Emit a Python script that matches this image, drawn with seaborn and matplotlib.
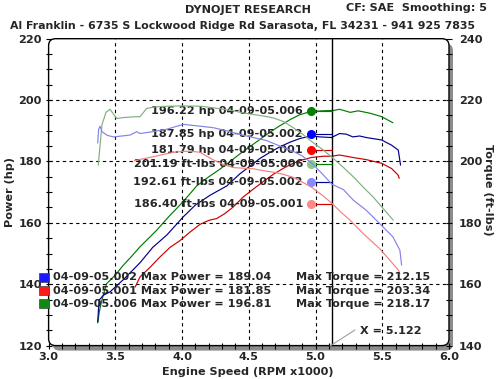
import matplotlib
matplotlib.use("Agg")
import matplotlib.pyplot as plt
import seaborn as sns
import pandas as pd
from matplotlib.patches import FancyBboxPatch, Rectangle
from matplotlib.lines import Line2D

# ---------------- data ----------------
runs = ["04-09-05.002", "04-09-05.001", "04-09-05.006"]
max_power = ["189.04", "181.85", "196.81"]
max_torque = ["212.15", "203.34", "218.17"]
cursor_rpm = 5.122

# run 006 (green)
hp006_rpm = [3.368, 3.38, 3.40, 3.435, 3.50, 3.56, 3.62, 3.685, 3.75, 3.81, 3.90, 3.984, 4.05, 4.109, 4.20,
             4.284, 4.36, 4.434, 4.53, 4.634, 4.72, 4.808, 4.88, 4.958, 5.05, 5.133, 5.18, 5.26, 5.32, 5.41,
             5.495, 5.58]
hp006 = [127.4, 131.0, 135.0, 140.2, 143.0, 146.2, 149.0, 152.2, 155.0, 157.6, 162.0, 165.8, 169.0, 172.0, 175.0,
         177.5, 180.0, 182.5, 185.5, 188.8, 191.3, 193.6, 195.2, 196.2, 196.5, 196.6, 197.0, 196.0, 196.5, 195.7,
         194.6, 192.6]
tq006_rpm = [3.372, 3.385, 3.40, 3.43, 3.46, 3.51, 3.56, 3.62, 3.685, 3.735, 3.80, 3.90, 4.01, 4.134, 4.234,
             4.31, 4.384, 4.46, 4.534, 4.61, 4.683, 4.76, 4.833, 4.90, 4.97, 5.05, 5.133, 5.21, 5.283, 5.36,
             5.43, 5.51, 5.582]
tq006 = [198.8, 205.0, 212.0, 216.0, 217.0, 214.0, 214.3, 214.5, 214.6, 217.3, 217.8, 218.0, 218.1, 218.0, 217.5,
         217.0, 216.5, 215.8, 215.3, 214.8, 214.2, 213.0, 211.0, 209.0, 206.5, 204.0, 201.0, 198.0, 195.0, 191.5,
         188.5, 184.5, 180.9]

# run 002 (blue)
hp002_rpm = [3.368, 3.378, 3.41, 3.46, 3.56, 3.685, 3.78, 3.885, 4.01, 4.10, 4.21, 4.334, 4.434, 4.51, 4.584,
             4.66, 4.734, 4.81, 4.884, 4.97, 5.033, 5.12, 5.18, 5.23, 5.28, 5.33, 5.38, 5.495, 5.57, 5.62, 5.637]
hp002 = [127.7, 134.8, 136.4, 137.5, 141.5, 147.0, 152.0, 156.0, 162.0, 165.8, 169.0, 172.0, 176.0, 178.5, 181.0,
         183.0, 184.8, 186.3, 187.5, 188.3, 188.0, 187.8, 189.1, 188.9, 188.0, 188.3, 187.8, 187.0, 185.3, 183.7, 178.8]
tq002_rpm = [3.368, 3.375, 3.385, 3.40, 3.44, 3.485, 3.55, 3.61, 3.66, 3.685, 3.78, 3.885, 4.01, 4.134, 4.234,
             4.334, 4.434, 4.534, 4.634, 4.734, 4.833, 4.90, 4.97, 5.05, 5.122, 5.21, 5.283, 5.38, 5.48,
             5.58, 5.632, 5.645]
tq002 = [206.0, 210.5, 211.5, 209.7, 208.5, 208.0, 208.3, 208.6, 209.7, 209.1, 209.7, 210.5, 212.1, 211.5, 211.0,
         210.0, 208.8, 207.8, 206.8, 205.0, 203.3, 201.8, 199.5, 196.0, 192.6, 190.8, 187.4, 184.1,
         179.8, 175.4, 171.1, 166.2]

# run 001 (red)
hp001_rpm = [3.649, 3.685, 3.76, 3.835, 3.91, 3.984, 4.06, 4.134, 4.20, 4.259, 4.32, 4.384, 4.46, 4.534, 4.61,
             4.683, 4.76, 4.833, 4.90, 4.97, 5.058, 5.12, 5.18, 5.28, 5.38, 5.495, 5.57, 5.62, 5.627]
hp001 = [139.1, 142.4, 145.5, 148.9, 152.0, 154.2, 157.0, 159.5, 160.8, 161.4, 163.0, 165.2, 168.5, 171.0, 173.5,
         175.8, 177.8, 179.4, 180.5, 181.3, 181.7, 181.7, 182.1, 181.3, 180.6, 179.4, 177.7, 175.5, 174.5]
tq001_rpm = [3.642, 3.70, 3.78, 3.86, 3.94, 4.01, 4.07, 4.134, 4.234, 4.31, 4.384, 4.46, 4.534, 4.61, 4.683,
             4.76, 4.833, 4.90, 4.97, 5.05, 5.122, 5.19, 5.258, 5.357, 5.42, 5.48, 5.557, 5.62, 5.632]
tq001 = [200.2, 200.8, 201.5, 202.3, 203.0, 203.3, 203.3, 203.0, 200.5, 199.0, 198.0, 197.8, 197.6, 197.0, 196.5,
         195.8, 194.8, 193.3, 191.6, 189.0, 186.4, 183.5, 180.9, 176.5, 174.0, 171.6, 167.8, 164.6, 163.5]

# cursor read-outs (text, value axis position in hp units)
cursor_texts = ["196.22 hp 04-09-05.006", "187.85 hp 04-09-05.002", "181.79 hp 04-09-05.001",
                "201.19 ft-lbs 04-09-05.006", "192.61 ft-lbs 04-09-05.002", "186.40 ft-lbs 04-09-05.001"]
cursor_ypos = [196.4, 188.8, 183.7, 179.1, 173.2, 166.3]

# ---------------- style ----------------
sns.set_style("white")
plt.rcParams["font.family"] = ["DejaVu Sans"]
plt.rcParams["font.weight"] = "bold"
FS = 8.1

W, H = 497, 379
fig = plt.figure(figsize=(W / 100, H / 100), dpi=100)
fig.patch.set_facecolor("white")

L, R, T, B = 48.6, 449.0, 38.7, 345.6


def px(x, y):
    return x / W, 1 - y / H


ax = fig.add_axes([L / W, (H - B) / H, (R - L) / W, (B - T) / H])
ax.set_facecolor("none")
ax2 = ax.twinx()

# shadow + rounded frame
shadow = FancyBboxPatch(((L + 4) / 100, (H - B - 5) / 100), (R - L) / 100, (B - T) / 100,
                        boxstyle="round,pad=0,rounding_size=0.07", transform=fig.dpi_scale_trans,
                        facecolor="#8c8c8c", edgecolor="none", zorder=-10)
fig.add_artist(shadow)
face = FancyBboxPatch((L / 100, (H - B) / 100), (R - L) / 100, (B - T) / 100,
                      boxstyle="round,pad=0,rounding_size=0.07", transform=fig.dpi_scale_trans,
                      facecolor="white", edgecolor="none", zorder=-9)
fig.add_artist(face)
frame = FancyBboxPatch((L / 100, (H - B) / 100), (R - L) / 100, (B - T) / 100,
                       boxstyle="round,pad=0,rounding_size=0.07", transform=fig.dpi_scale_trans,
                       facecolor="none", edgecolor="black", lw=1.0, zorder=10)
fig.add_artist(frame)

for a in (ax, ax2):
    for s in a.spines.values():
        s.set_visible(False)

dark = {"006": "#007c00", "002": "#00008c", "001": "#c80000"}
light = {"006": "#80b080", "002": "#8484e6", "001": "#f28080"}
mark_dark = {"006": "#008000", "002": "#0000ff", "001": "#ff0000"}
mark_light = {"006": "#88c888", "002": "#8888ff", "001": "#ff8888"}

lw = 0.85
for rpm, vals, key in [(hp006_rpm, hp006, "006"), (hp002_rpm, hp002, "002"), (hp001_rpm, hp001, "001")]:
    df = pd.DataFrame({"rpm": rpm, "v": vals})
    sns.lineplot(data=df, x="rpm", y="v", ax=ax, color=dark[key], lw=lw, estimator=None, sort=False)
for rpm, vals, key in [(tq006_rpm, tq006, "006"), (tq002_rpm, tq002, "002"), (tq001_rpm, tq001, "001")]:
    df = pd.DataFrame({"rpm": rpm, "v": vals})
    sns.lineplot(data=df, x="rpm", y="v", ax=ax2, color=light[key], lw=lw, estimator=None, sort=False)

ax.set_xlim(3.0, 6.0)
ax.set_ylim(120, 220)
ax2.set_ylim(140, 240)
ax.set_xlabel("")
ax.set_ylabel("")
ax2.set_ylabel("")

ax.set_xticks([3.0, 3.5, 4.0, 4.5, 5.0, 5.5, 6.0])
ax.set_xticklabels(["3.0", "3.5", "4.0", "4.5", "5.0", "5.5", "6.0"])
ax.set_xticks([3 + i * 0.1 for i in range(31)], minor=True)
ax.set_yticks(range(120, 221, 20))
ax.set_yticks(range(120, 221, 5), minor=True)
ax2.set_yticks(range(140, 241, 20))
ax2.set_yticks(range(140, 241, 5), minor=True)

for a in (ax, ax2):
    a.tick_params(which="both", direction="inout", length=5, width=0.8, color="black",
                  labelsize=FS)
ax.tick_params(axis="y", which="both", left=True, right=False, pad=2.3)
ax.tick_params(axis="x", which="both", bottom=True, top=False, pad=1.8)
ax2.tick_params(axis="y", which="both", right=True, left=False, pad=4.6)
for lab in ax.get_xticklabels() + ax.get_yticklabels() + ax2.get_yticklabels():
    lab.set_fontweight("bold")

# grid
for xv in [3.5, 4.0, 4.5, 5.0, 5.5]:
    ax.axvline(xv, color="black", lw=0.8, ls=(0, (3, 3)), zorder=0)
for yv in [140, 160, 180, 200]:
    ax.axhline(yv, color="black", lw=0.8, ls=(0, (3, 3)), zorder=0)

# cursor
ax.axvline(cursor_rpm, color="black", lw=1.0, zorder=3)

# cursor read-outs
marker_rpm = 4.966
mcolors = [mark_dark["006"], mark_dark["002"], mark_dark["001"],
           mark_light["006"], mark_light["002"], mark_light["001"]]
lcolors = [dark["006"], dark["002"], dark["001"], dark["006"], dark["002"], dark["001"]]
for txt, yv, mc, lc in zip(cursor_texts, cursor_ypos, mcolors, lcolors):
    ax.plot([marker_rpm, cursor_rpm], [yv, yv], color=lc, lw=lw, zorder=4)
    ax.plot([marker_rpm], [yv], "o", color=mc, ms=5.5, mec=mc, zorder=5)
    ax.text(4.906, yv, txt, ha="right", va="center", fontsize=FS, fontweight="bold", zorder=6)

# legend
leg_cols = ["#1a1aff", "#ff1a1a", "#108a10"]
rows_y = [277.3, 290.7, 303.7]
for run, pw, tq, col, yy in zip(runs, max_power, max_torque, leg_cols, rows_y):
    x0, y0 = px(39, yy + 4.5)
    fig.add_artist(Rectangle((x0, y0), 9.5 / W, 9 / H, transform=fig.transFigure,
                             facecolor=col, edgecolor="#404040", lw=0.5, zorder=11))
    fig.text(*px(52.7, yy), f"{run} Max Power = {pw}", ha="left", va="center",
             fontsize=FS, fontweight="bold", zorder=12)
    fig.text(*px(295.7, yy), f"Max Torque = {tq}", ha="left", va="center",
             fontsize=FS, fontweight="bold", zorder=12)

# cursor value label
fig.add_artist(Line2D([330 / W, 355 / W], [1 - 346 / H, 1 - 330 / H], color="#a0a0a0", lw=0.8,
                      transform=fig.transFigure, zorder=11))
fig.text(*px(360, 331), f"X = {cursor_rpm:.3f}", ha="left", va="center", fontsize=FS, fontweight="bold")

# titles and axis labels
fig.text(*px(248, 10), "DYNOJET RESEARCH", ha="center", va="center", fontsize=FS, fontweight="bold")
fig.text(*px(487, 8), "CF: SAE  Smoothing: 5", ha="right", va="center", fontsize=FS, fontweight="bold")
fig.text(*px(243, 26), "Al Franklin - 6735 S Lockwood Ridge Rd Sarasota, FL 34231 - 941 925 7835",
         ha="center", va="center", fontsize=7.9, fontweight="bold")
fig.text(*px(10, 192), "Power (hp)", rotation=90, ha="center", va="center", fontsize=FS, fontweight="bold")
fig.text(*px(488, 190), "Torque (ft-lbs)", rotation=270, ha="center", va="center", fontsize=FS,
         fontweight="bold")
fig.text(*px(248, 372), "Engine Speed (RPM x1000)", ha="center", va="center", fontsize=FS, fontweight="bold")

fig.savefig("out.png", dpi=100)
